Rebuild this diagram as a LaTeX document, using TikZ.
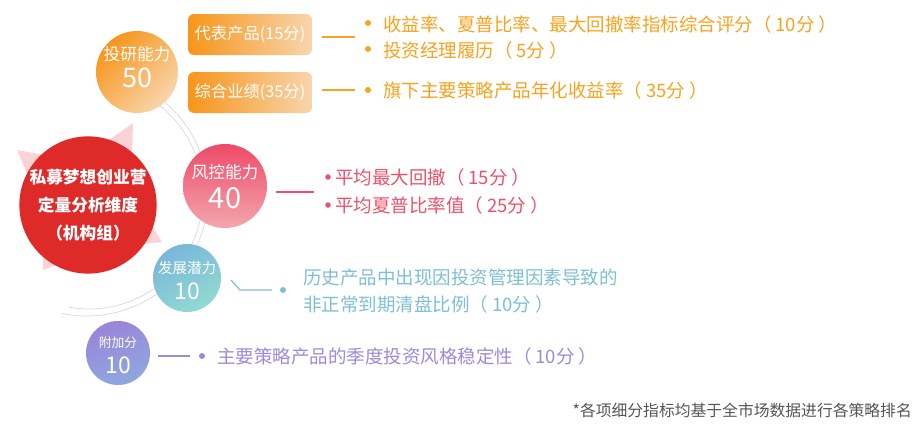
\documentclass[tikz,border=0pt]{standalone}
\usepackage{fontspec}
\setmainfont{Noto Sans CJK SC}
\usetikzlibrary{calc}
\definecolor{orgA}{HTML}{F7951A}
\definecolor{orgB}{HTML}{F8D5AC}
\definecolor{orgT}{HTML}{F8A21E}
\definecolor{redT}{HTML}{EE5069}
\definecolor{redA}{HTML}{EE4A68}
\definecolor{redB}{HTML}{F3A6AC}
\definecolor{bluT}{HTML}{7DBFD6}
\definecolor{bluA}{HTML}{7AB6DA}
\definecolor{bluB}{HTML}{92DAD2}
\definecolor{purT}{HTML}{9A8BDB}
\definecolor{purA}{HTML}{9A84D8}
\definecolor{purB}{HTML}{8EA8E0}
\definecolor{core}{HTML}{DF2A2A}
\definecolor{starpink}{HTML}{FAD3D6}
\definecolor{arcg}{HTML}{DCDCDC}
\definecolor{note}{HTML}{555555}
\newcommand{\lp}{（\hspace{4pt}}
\newcommand{\rp}{\hspace{4pt}）}
\tikzset{
  ball/.style={circle, inner sep=0pt, text=white, align=center},
  catbox/.style={rounded corners=6pt, inner sep=0pt, minimum width=124pt, minimum height=41pt,
     left color=orgA, right color=orgB, text=white, font=\fontsize{16.3}{20}\selectfont},
  dot/.style={circle, inner sep=0pt, minimum size=6pt},
  itemtxt/.style={anchor=west, inner sep=0pt, font=\fontsize{18.5}{27}\selectfont, align=left},
  conn/.style={line width=1.2pt},
}
\begin{document}
\begin{tikzpicture}[x=1pt,y=-1pt]
\useasboundingbox (0,0) rectangle (920,423);
% decorative star
\fill[starpink] (17,150)--(79,161)--(133,123)--(131,192)--(162,242)--(99,249)--(43,270)--(44,212)--cycle;
% gray arcs
\draw[arcg, line width=0.8pt] plot[domain=-56:100, samples=80, smooth] ({89+114*cos(\x)},{195+114*sin(\x)});
\draw[arcg, line width=0.8pt] plot[domain=-58:102, samples=80, smooth] ({87+121*cos(\x)},{195+121*sin(\x)});
% central
\node[ball, fill=core, minimum size=132pt, font=\fontsize{16.7}{28}\selectfont\bfseries] (core) at (88,205)
  {私募梦想创业营\\定量分析维度\\（机构组）};
% category circles
\node[ball, minimum size=82pt, top color=orgA, bottom color=orgB, shading angle=45] (yj) at (137,72) {};
\node[text=white, font=\fontsize{16.7}{20}\selectfont] (yjt) at (137,54) {投研能力};
\node[text=white, font=\fontsize{27}{30}\selectfont] (yjn) at (137,78) {50};

\node[ball, minimum size=84pt, top color=redA, bottom color=redB] (fk) at (225,186) {};
\node[text=white, font=\fontsize{16.7}{20}\selectfont] (fkt) at (225,172) {风控能力};
\node[text=white, font=\fontsize{29}{32}\selectfont] (fkn) at (225,198) {40};

\node[ball, minimum size=68pt, top color=bluA, bottom color=bluB, shading angle=30] (fz) at (187,278) {};
\node[text=white, font=\fontsize{14.5}{18}\selectfont] (fzt) at (187,268) {发展潜力};
\node[text=white, font=\fontsize{23}{26}\selectfont] (fzn) at (187,291) {10};

\node[ball, minimum size=64pt, top color=purA, bottom color=purB, shading angle=20] (fj) at (118,353) {};
\node[text=white, font=\fontsize{12.8}{16}\selectfont] (fjt) at (118,343) {附加分};
\node[text=white, font=\fontsize{23}{26}\selectfont] (fjn) at (118,365) {10};

% orange boxes
\node[catbox] (box1) at (250,34.5) {代表产品(15分)};
\node[catbox] (box2) at (250,92.5) {综合业绩(35分)};

% orange items
\coordinate (o1a) at (322,37); \coordinate (o1b) at (355,37);
\draw[orgT, conn] (o1a) -- (o1b);
\node[dot, fill=orgT] (ob1) at (368,23) {};
\node[dot, fill=orgT] (ob2) at (368,49) {};
\node[itemtxt, text=orgT] (ot1) at (383,24) {收益率、夏普比率、最大回撤率指标综合评分\lp 10分\rp};
\node[itemtxt, text=orgT] (ot2) at (383,50) {投资经理履历\lp 5分\rp};
\coordinate (o2a) at (322,90); \coordinate (o2b) at (355,90);
\draw[orgT, conn] (o2a) -- (o2b);
\node[dot, fill=orgT] (ob3) at (368,90) {};
\node[itemtxt, text=orgT] (ot3) at (383,90) {旗下主要策略产品年化收益率\lp 35分\rp};

% red items
\coordinate (r1a) at (276,192); \coordinate (r1b) at (314,192);
\draw[redT, conn] (r1a) -- (r1b);
\node[dot, fill=redT, minimum size=5.5pt] (rb1) at (328,177) {};
\node[dot, fill=redT, minimum size=5.5pt] (rb2) at (328,205) {};
\node[itemtxt, text=redT] (rt1) at (335,177) {平均最大回撤\lp 15分\rp};
\node[itemtxt, text=redT] (rt2) at (335,205) {平均夏普比率值\lp 25分\rp};

% blue items
\coordinate (u1a) at (231,280); \coordinate (u1m) at (240,290); \coordinate (u1b) at (272,290);
\draw[bluT, conn] (u1a) -- (u1m) -- (u1b);
\node[dot, fill=bluT] (ub1) at (283,290) {};
\node[itemtxt, text=bluT] (ut1) at (303,291.5) {历史产品中出现因投资管理因素导致的\\非正常到期清盘比例\lp 10分\rp};

% purple items
\coordinate (p1a) at (158,356); \coordinate (p1b) at (190,356);
\draw[purT, conn] (p1a) -- (p1b);
\node[dot, fill=purT] (pb1) at (202,356) {};
\node[itemtxt, text=purT] (pt1) at (217,356) {主要策略产品的季度投资风格稳定性\lp 10分\rp};

% footnote
\node[anchor=east, inner sep=0pt, text=note, font=\fontsize{15.8}{19}\selectfont] (fn) at (912,410) {*各项细分指标均基于全市场数据进行各策略排名};
\end{tikzpicture}
\end{document}
